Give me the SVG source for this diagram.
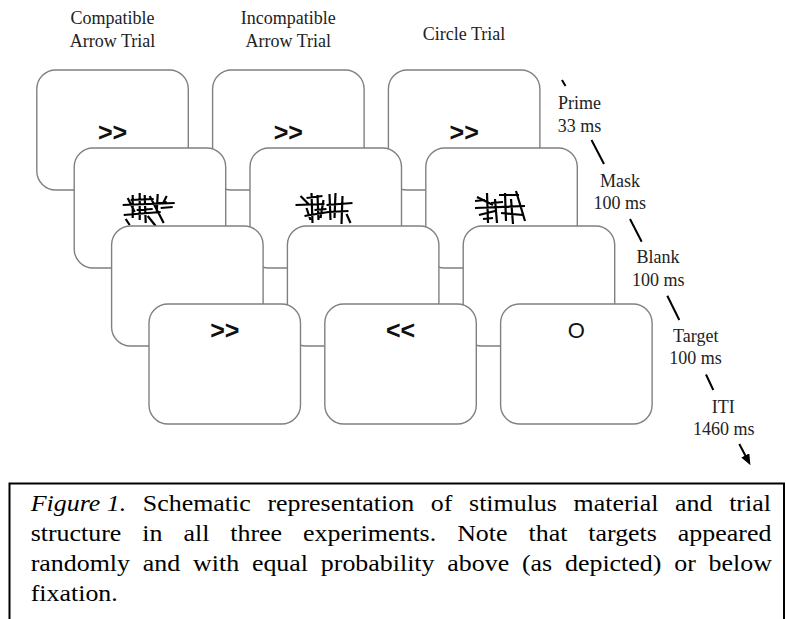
<svg xmlns="http://www.w3.org/2000/svg" xmlns:xlink="http://www.w3.org/1999/xlink" width="786" height="619" viewBox="0 0 786 619">
<style>
.box{fill:#fff;stroke:#808080;stroke-width:1.4}
.hdr{font-family:"Liberation Serif","Times New Roman",serif;font-size:18px;text-anchor:middle;fill:#222}
.stim{font-family:"Liberation Sans",Arial,sans-serif;font-weight:bold;font-size:25px;text-anchor:middle;fill:#111}
.circ{font-family:"Liberation Sans",Arial,sans-serif;font-size:22px;text-anchor:middle;fill:#111}
.mk{fill:none;stroke:#000;stroke-width:2.2}
.tick{stroke:#000;stroke-width:2;fill:none}
.cap{font-family:"Liberation Serif","Times New Roman",serif;font-size:24px;fill:#000}
.frame{fill:none;stroke:#000;stroke-width:2}
</style>
<defs>
<path id="mask1" class="mk" d="M0 15 L52 13 M8 10 L31 9 M1 25 L38 22 M10 5 L10 28 M17 3 L17 30 M22 5 L23 33 M27 6 L41 33 M35 4 L34 23 M38 18 L50 17 M3 29 L7 35 M30 14 L44 12 M44 6 L40 14 M14 20 L30 19 M5 8 L12 22 M25 26 L33 36"/>
<path id="mask2" class="mk" d="M-3 15 L26 14 M8 8 L24 6 M6 26 L30 22 M13 3 L14 33 M19 5 L20 30 M25 10 L22 28 M31 4 L32 30 M37 3 L36 28 M28 15 L54 13 M30 22 L50 21 M44 6 L43 34 M8 18 L12 30 M48 24 L52 33 M2 6 L10 14 M16 20 L28 19"/>
<path id="mask3" class="mk" d="M0 17 L50 15 M2 6 L18 14 M4 24 L20 20 M12 2 L13 32 M20 8 L22 32 M24 4 L44 4 M30 2 L31 30 M36 8 L38 33 M26 22 L48 24 M41 0 L50 30 M0 10 L10 9 M8 28 L18 27 M16 12 L28 11"/>
<marker id="ah" markerUnits="userSpaceOnUse" markerWidth="11" markerHeight="9" refX="6" refY="4.5" orient="auto">
<path d="M0 0 L11 4.5 L0 9 z" fill="#000"/>
</marker>
</defs>

<g id="headers">
<text class="hdr" x="112.5" y="24">Compatible</text>
<text class="hdr" x="112.5" y="47">Arrow Trial</text>
<text class="hdr" x="288.3" y="24">Incompatible</text>
<text class="hdr" x="288.3" y="47">Arrow Trial</text>
<text class="hdr" x="464" y="39.5">Circle Trial</text>
</g>

<!-- Row 1: Prime -->
<g id="prime-compatible"><rect class="box" x="36.8" y="70" width="151.5" height="120" rx="19"/><text class="stim" x="112.5" y="140.5">&gt;&gt;</text></g>
<g id="prime-incompatible"><rect class="box" x="212.6" y="70" width="151.5" height="120" rx="19"/><text class="stim" x="288.3" y="140.5">&gt;&gt;</text></g>
<g id="prime-circle"><rect class="box" x="388.4" y="70" width="151.5" height="120" rx="19"/><text class="stim" x="464.2" y="140.5">&gt;&gt;</text></g>

<!-- Row 2: Mask -->
<g id="mask-compatible"><rect class="box" x="74.2" y="148" width="151.5" height="120" rx="19"/><use xlink:href="#mask1" transform="translate(122.7,190)"/></g>
<g id="mask-incompatible"><rect class="box" x="250" y="148" width="151.5" height="120" rx="19"/><use xlink:href="#mask2" transform="translate(298.5,190)"/></g>
<g id="mask-circle"><rect class="box" x="425.8" y="148" width="151.5" height="120" rx="19"/><use xlink:href="#mask3" transform="translate(475,191)"/></g>

<!-- Row 3: Blank -->
<g id="blank-compatible"><rect class="box" x="111.6" y="226" width="151.5" height="120" rx="19"/></g>
<g id="blank-incompatible"><rect class="box" x="287.4" y="226" width="151.5" height="120" rx="19"/></g>
<g id="blank-circle"><rect class="box" x="463.2" y="226" width="151.5" height="120" rx="19"/></g>

<!-- Row 4: Target -->
<g id="target-compatible"><rect class="box" x="149" y="304" width="151.5" height="120" rx="19"/><text class="stim" x="224.8" y="338.5">&gt;&gt;</text></g>
<g id="target-incompatible"><rect class="box" x="324.8" y="304" width="151.5" height="120" rx="19"/><text class="stim" x="400.6" y="338.5">&lt;&lt;</text></g>
<g id="target-circle"><rect class="box" x="500.6" y="304" width="151.5" height="120" rx="19"/><text class="circ" x="576.4" y="338">O</text></g>

<g id="phase-prime"><text class="hdr" x="579.5" y="109">Prime</text><text class="hdr" x="579.5" y="132">33 ms</text></g>
<g id="phase-mask"><text class="hdr" x="620" y="186.7">Mask</text><text class="hdr" x="619.7" y="209">100 ms</text></g>
<g id="phase-blank"><text class="hdr" x="658" y="263.3">Blank</text><text class="hdr" x="658.3" y="285.7">100 ms</text></g>
<g id="phase-target"><text class="hdr" x="695.8" y="341.7">Target</text><text class="hdr" x="695.4" y="364">100 ms</text></g>
<g id="phase-iti"><text class="hdr" x="723.2" y="413.3">ITI</text><text class="hdr" x="723.7" y="435">1460 ms</text></g>

<g id="connectors">
<line class="tick" x1="562" y1="80" x2="565.5" y2="86"/>
<line class="tick" x1="591.5" y1="140" x2="604" y2="164"/>
<line class="tick" x1="630" y1="219" x2="641.7" y2="241.7"/>
<line class="tick" x1="667.3" y1="295.7" x2="679.3" y2="320"/>
<line class="tick" x1="706" y1="374.5" x2="713.3" y2="390"/>
<line class="tick" x1="739.3" y1="444" x2="748.1" y2="460.8" marker-end="url(#ah)"/>
</g>

<g id="caption">
<rect class="frame" x="9.5" y="483.5" width="774.5" height="200"/>
<g transform="translate(30.7,0) scale(1.08,1)">
<text class="cap" x="0" y="511" style="word-spacing:9.43px"><tspan font-style="italic" style="word-spacing:0px">Figure 1.</tspan> Schematic representation of stimulus material and trial</text>
<text class="cap" x="0" y="541" style="word-spacing:13.42px">structure in all three experiments. Note that targets appeared</text>
<text class="cap" x="0" y="571" style="word-spacing:5.86px">randomly and with equal probability above (as depicted) or below</text>
<text class="cap" x="0" y="601">fixation.</text>
</g>
</g>
</svg>
